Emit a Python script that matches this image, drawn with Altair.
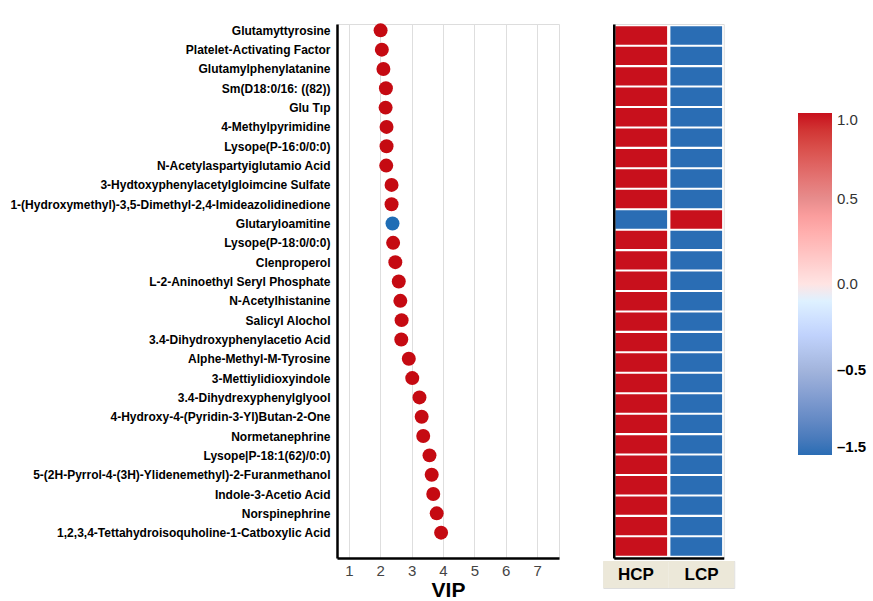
import altair as alt
import pandas as pd

# ---------------- data ----------------
metabolites = [
    "Glutamyttyrosine",
    "Platelet-Activating Factor",
    "Glutamylphenylatanine",
    "Sm(D18:0/16: ((82))",
    "Glu Tıp",
    "4-Methylpyrimidine",
    "Lysope(P-16:0/0:0)",
    "N-Acetylaspartyiglutamio Acid",
    "3-Hydtoxyphenylacetylgloimcine Sulfate",
    "1-(Hydroxymethyl)-3,5-Dimethyl-2,4-Imideazolidinedione",
    "Glutaryloamitine",
    "Lysope(P-18:0/0:0)",
    "Clenproperol",
    "L-2-Aninoethyl Seryl Phosphate",
    "N-Acetylhistanine",
    "Salicyl Alochol",
    "3.4-Dihydroxyphenylacetio Acid",
    "Alphe-Methyl-M-Tyrosine",
    "3-Mettiylidioxyindole",
    "3.4-Dihydrexyphenylglyool",
    "4-Hydroxy-4-(Pyridin-3-Yl)Butan-2-One",
    "Normetanephrine",
    "Lysope|P-18:1(62)/0:0)",
    "5-(2H-Pyrrol-4-(3H)-Ylidenemethyl)-2-Furanmethanol",
    "Indole-3-Acetio Acid",
    "Norspinephrine",
    "1,2,3,4-Tettahydroisoquholine-1-Catboxylic Acid",
]
vip = [2.01, 2.05, 2.10, 2.18, 2.17, 2.20, 2.20, 2.19, 2.36, 2.36,
       2.39, 2.41, 2.48, 2.59, 2.64, 2.68, 2.67, 2.91, 3.02, 3.25,
       3.32, 3.37, 3.57, 3.64, 3.69, 3.80, 3.94]
trend = ["up", "up", "up", "up", "up", "up", "up", "up", "up", "up",
         "down", "up", "up", "up", "up", "up", "up", "up", "up", "up",
         "up", "up", "up", "up", "up", "up", "up"]
vip_ticks = [1, 2, 3, 4, 5, 6, 7]

groups = ["HCP", "LCP"]
heat_hcp = [1.0, 1.0, 1.0, 1.0, 1.0, 1.0, 1.0, 1.0, 1.0, -1.5,
            1.0, 1.0, 1.0, 1.0, 1.0, 1.0, 1.0, 1.0, 1.0, 1.0,
            1.0, 1.0, 1.0, 1.0, 1.0, 1.0]
heat_lcp = [-1.5, -1.5, -1.5, -1.5, -1.5, -1.5, -1.5, -1.5, -1.5, 1.0,
            -1.5, -1.5, -1.5, -1.5, -1.5, -1.5, -1.5, -1.5, -1.5, -1.5,
            -1.5, -1.5, -1.5, -1.5, -1.5, -1.5]
legend_values = [1.0, 0.5, 0.0, -0.5, -1.0]

RED = "#c50a12"
BLUE = "#1f6db5"
FONT = "Liberation Sans"

# ---------------- tables ----------------
dot_df = pd.DataFrame({"Metabolite": metabolites, "VIP": vip, "Trend": trend})

heat_rows = []
for i, (h, l) in enumerate(zip(heat_hcp, heat_lcp)):
    heat_rows.append({"Row": i + 1, "Group": "HCP", "Z": h})
    heat_rows.append({"Row": i + 1, "Group": "LCP", "Z": l})
heat_df = pd.DataFrame(heat_rows)
box_df = pd.DataFrame({"Group": groups})

# ---------------- VIP dot plot ----------------
dots = alt.Chart(dot_df).mark_circle(size=195, opacity=1).encode(
    x=alt.X("VIP:Q",
            scale=alt.Scale(domain=[0.62, 7.7], nice=False, zero=False),
            axis=alt.Axis(values=vip_ticks, format="d", title="VIP", grid=True,
                          gridColor="#dedede", gridWidth=1, ticks=False,
                          domainColor="black", domainWidth=2.5,
                          labelFontSize=15, labelColor="#444444", labelPadding=5,
                          labelFont=FONT,
                          titleFontSize=21, titleFontWeight="bold", titleColor="black",
                          titlePadding=1, titleFont=FONT)),
    y=alt.Y("Metabolite:N", sort=metabolites,
            scale=alt.Scale(type="point", padding=0.82, align=0.2),
            axis=alt.Axis(title=None, ticks=False, grid=False,
                          domainColor="black", domainWidth=2.5,
                          labelFontSize=12, labelFontWeight="bold", labelColor="black",
                          labelPadding=7, labelLimit=500, labelFont=FONT)),
    color=alt.Color("Trend:N", scale=alt.Scale(domain=["up", "down"], range=[RED, BLUE]),
                    legend=None),
).properties(width=222, height=534)

# ---------------- heatmap ----------------
heat = alt.Chart(heat_df).mark_rect().encode(
    x=alt.X("Group:N", sort=groups,
            scale=alt.Scale(paddingInner=0.06, paddingOuter=0.03),
            axis=alt.Axis(title=None, labels=False, ticks=False,
                          domainColor="black", domainWidth=2.5)),
    y=alt.Y("Row:O",
            scale=alt.Scale(paddingInner=0.1, paddingOuter=0.11),
            axis=alt.Axis(title=None, labels=False, ticks=False,
                          domainColor="black", domainWidth=2.5)),
    color=alt.Color("Z:Q",
                    scale=alt.Scale(domain=[-1.0, -0.5, 0.0, 0.5, 1.0],
                                    range=["#2a6db4", "#a3b5dd", "#ffffff", "#e78c8c", "#c8101c"],
                                    clamp=True),
                    legend=alt.Legend(
                        title=None, orient="none", legendX=195, legendY=89,
                        direction="vertical", gradientLength=342, gradientThickness=34,
                        gradientStrokeWidth=0, values=legend_values,
                        labelExpr="datum.value == -1 ? '\u20131.5' : (datum.value < 0 ? '\u2013' + format(-datum.value, '.1f') : format(datum.value, '.1f'))",
                        labelFontSize=15, labelFont=FONT, labelOffset=5,
                        labelBaseline="middle",
                        labelFontWeight=alt.ExprRef(expr="datum.value < 0 ? 'bold' : 'normal'"),
                        labelColor=alt.ExprRef(expr="datum.value < 0 ? '#000000' : '#333333'"),
                    )),
).properties(width=110, height=534)

box = alt.Chart(box_df).mark_rect(color="#ece8d9").encode(
    x=alt.X("Group:N", sort=groups, scale=alt.Scale(paddingInner=0, paddingOuter=0), axis=None),
)
box_text = alt.Chart(box_df).mark_text(fontSize=17, fontWeight="bold", color="black", font=FONT).encode(
    x=alt.X("Group:N", sort=groups, axis=None),
    text="Group:N",
)
box_layer = alt.layer(box, box_text).properties(width=131, height=27)

right = alt.vconcat(heat, box_layer, spacing=1, center=True)

chart = alt.hconcat(dots, right, spacing=42).resolve_scale(color="independent").properties(
    padding={"left": 9, "top": 22, "right": 5, "bottom": 0},
    background="white",
).configure_view(stroke=None).configure(font=FONT)

chart.save("out.html", embed_options={"renderer": "svg", "actions": False})
